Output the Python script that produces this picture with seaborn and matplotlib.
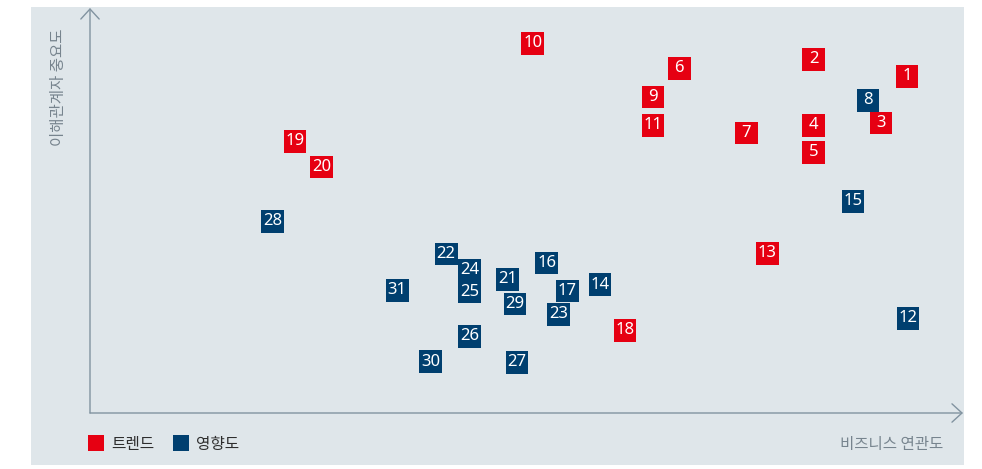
import matplotlib
matplotlib.use("Agg")
import matplotlib.pyplot as plt
import seaborn as sns
import pandas as pd
from matplotlib.patches import Rectangle
from matplotlib.lines import Line2D

# ---- data (business relevance x, stakeholder importance y; 0-100 scale) ----
ids = list(range(1, 32))
x_vals = [93.6, 82.9, 90.6, 82.9, 82.9, 67.5, 75.2, 89.1, 64.5, 50.7,
          64.5, 93.7, 77.6, 58.4, 87.4, 52.3, 54.7, 61.3, 23.5, 26.5,
          47.8, 40.8, 53.7, 43.5, 43.5, 43.5, 48.9, 20.9, 48.7, 39.0, 35.2]
y_vals = [83.1, 87.3, 71.6, 71.0, 64.4, 85.1, 69.1, 77.2, 78.0, 91.3,
          71.0, 23.4, 39.4, 31.7, 52.3, 37.0, 30.1, 20.4, 67.1, 60.7,
          33.0, 39.3, 24.4, 35.2, 29.9, 18.9, 12.5, 47.3, 26.9, 12.7, 30.3]
T, I = "트렌드", "영향도"
groups = [T, T, T, T, T, T, T, I, T, T,
          T, I, T, I, I, I, I, T, T, T,
          I, I, I, I, I, I, I, I, I, I, I]
categories = [T, I]
colors = {T: "#e60012", I: "#003f6f"}
x_label = "비즈니스 연관도"
y_label = "이해관계자 중요도"

df = pd.DataFrame({"id": ids, "x": x_vals, "y": y_vals, "group": groups})

sns.set_style("white")
plt.rcParams['font.family'] = ['Noto Sans CJK KR', 'DejaVu Sans']

W, H = 982, 469
fig = plt.figure(figsize=(W / 100, H / 100), dpi=100)
fig.patch.set_facecolor("white")

# background panel
fig.patches.append(Rectangle((31 / W, (H - 465) / H), 933 / W, 458 / H,
                             transform=fig.transFigure, facecolor="#dfe6ea",
                             edgecolor="none", zorder=-5))

ax = fig.add_axes([90 / W, (H - 413) / H, 873 / W, 405 / H])
ax.set_zorder(2)
ax.set_facecolor("none")
ax.set_xlim(0, 100)
ax.set_ylim(0, 100)

sns.scatterplot(data=df, x="x", y="y", hue="group", hue_order=categories,
                palette=colors, marker="s", s=266, linewidth=0, legend=False,
                ax=ax, zorder=3)

for i, xv, yv in zip(ids, x_vals, y_vals):
    ax.text(xv, yv, str(i), color="white", ha="center", va="center",
            fontsize=12, family=["Noto Sans", "DejaVu Sans"], zorder=4)

for s in ax.spines.values():
    s.set_visible(False)
ax.set_xticks([])
ax.set_yticks([])
ax.set_xlabel("")
ax.set_ylabel("")

axis_color = "#8193a0"
arrow = dict(arrowstyle="->,head_length=0.6,head_width=0.55", color=axis_color,
             lw=1.0, shrinkA=0, shrinkB=0, mutation_scale=12)
ax.annotate("", xy=(0, 1), xytext=(0, 0), xycoords="axes fraction",
            textcoords="axes fraction", arrowprops=arrow, annotation_clip=False)
ax.annotate("", xy=(1, 0), xytext=(0, 0), xycoords="axes fraction",
            textcoords="axes fraction", arrowprops=arrow, annotation_clip=False)

label_color = "#77848e"
fig.text(58 / W, 1 - 29 / H, y_label, rotation=90, ha="center", va="top",
         fontsize=11.2, color=label_color)
fig.text(943 / W, 1 - 444 / H, x_label, ha="right", va="center",
         fontsize=11.2, color=label_color)

# legend
handles = [Line2D([0], [0], marker="s", linestyle="none", markersize=11.5,
                  markerfacecolor=colors[c], markeredgewidth=0) for c in categories]
fig.legend(handles, categories, loc="center left",
           bbox_to_anchor=(88 / W, 1 - 444 / H), ncol=2, frameon=False,
           borderpad=0, borderaxespad=0,
           handlelength=1.02, handletextpad=0.45, columnspacing=1.2,
           prop={"size": 11.3}, labelcolor="#2e2e2e")

fig.savefig("out.png", dpi=100, facecolor="white")
